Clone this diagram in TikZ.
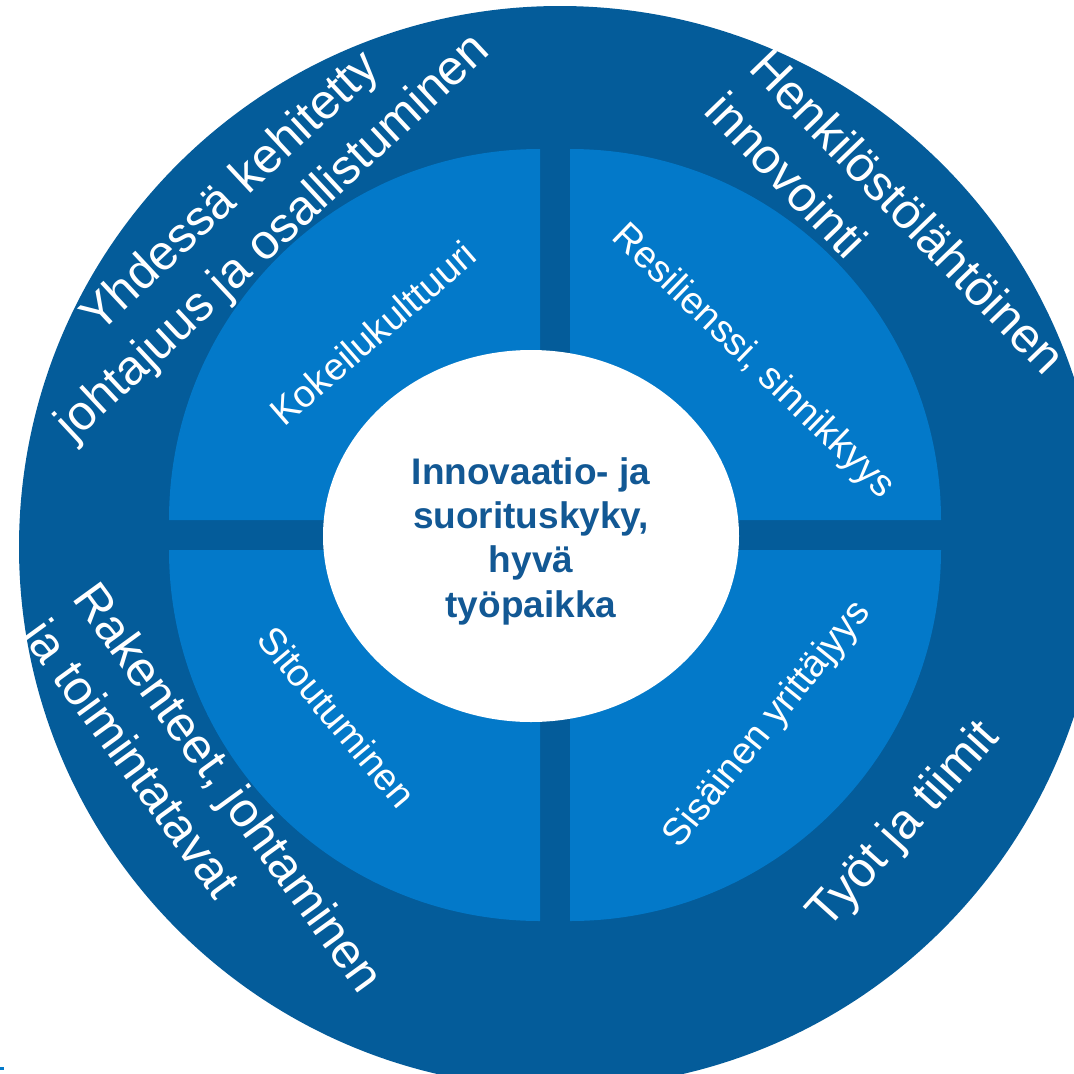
\documentclass[tikz,border=0pt]{standalone}
\usepackage{fontspec}
\setmainfont{Liberation Sans}
\definecolor{ringblue}{RGB}{4,92,154}
\definecolor{quadblue}{RGB}{3,121,201}
\definecolor{coreblue}{RGB}{18,88,148}
\begin{document}
\begin{tikzpicture}[x=1pt,y=-1pt,
	outer/.style={text=white,font=\fontsize{49}{62}\selectfont,align=center,inner sep=0pt},
	inner/.style={text=white,font=\fontsize{38}{46}\selectfont,inner sep=0pt},
	core/.style={text=coreblue,font=\fontsize{37}{44.3}\selectfont\bfseries,align=center,inner sep=0pt}]
	\def\R{371}
	\clip (0,0) rectangle (1074,1074);
	\fill[white] (0,0) rectangle (1074,1074);
	% outer ring
	\fill[ringblue] (560,547) circle (541);
	% quadrants
	\foreach \cx/\cy/\a in {540/520/180, 570/520/270, 570/550/0, 540/550/90} {
		\fill[quadblue] (\cx,\cy) -- ++(\a:\R) arc (\a:\a+90:\R) -- cycle;
	}
	% centre
	\fill[white] (531,536) ellipse (208 and 186);
	\fill[quadblue] (0,1067) rectangle (4,1070);

	\node[core] (goal) at (531,541) {Innovaatio- ja\\suorituskyky,\\hyvä\\työpaikka};

	% ring texts
	\node[outer,rotate=43] (lead) at (253,216) {Yhdessä kehitetty\\johtajuus ja osallistuminen};
	\node[outer,align=left,rotate=-46] (staff) at (886,233) {Henkilöstölähtöinen\\innovointi};
	\node[outer,align=left,rotate=-54] (struct) at (201,808) {Rakenteet, johtaminen\\ja toimintatavat};
	\node[outer,rotate=48] (teams) at (905,826) {Työt ja tiimit};

	% quadrant texts
	\node[inner,rotate=41] (trial) at (373,333) {Kokeilukulttuuri};
	\node[inner,rotate=-44] (resil) at (753,362) {Resilienssi, sinnikkyys};
	\node[inner,rotate=-50] (commit) at (337,717) {Sitoutuminen};
	\node[inner,rotate=51] (intra) at (768,725) {Sisäinen yrittäjyys};
\end{tikzpicture}
\end{document}
